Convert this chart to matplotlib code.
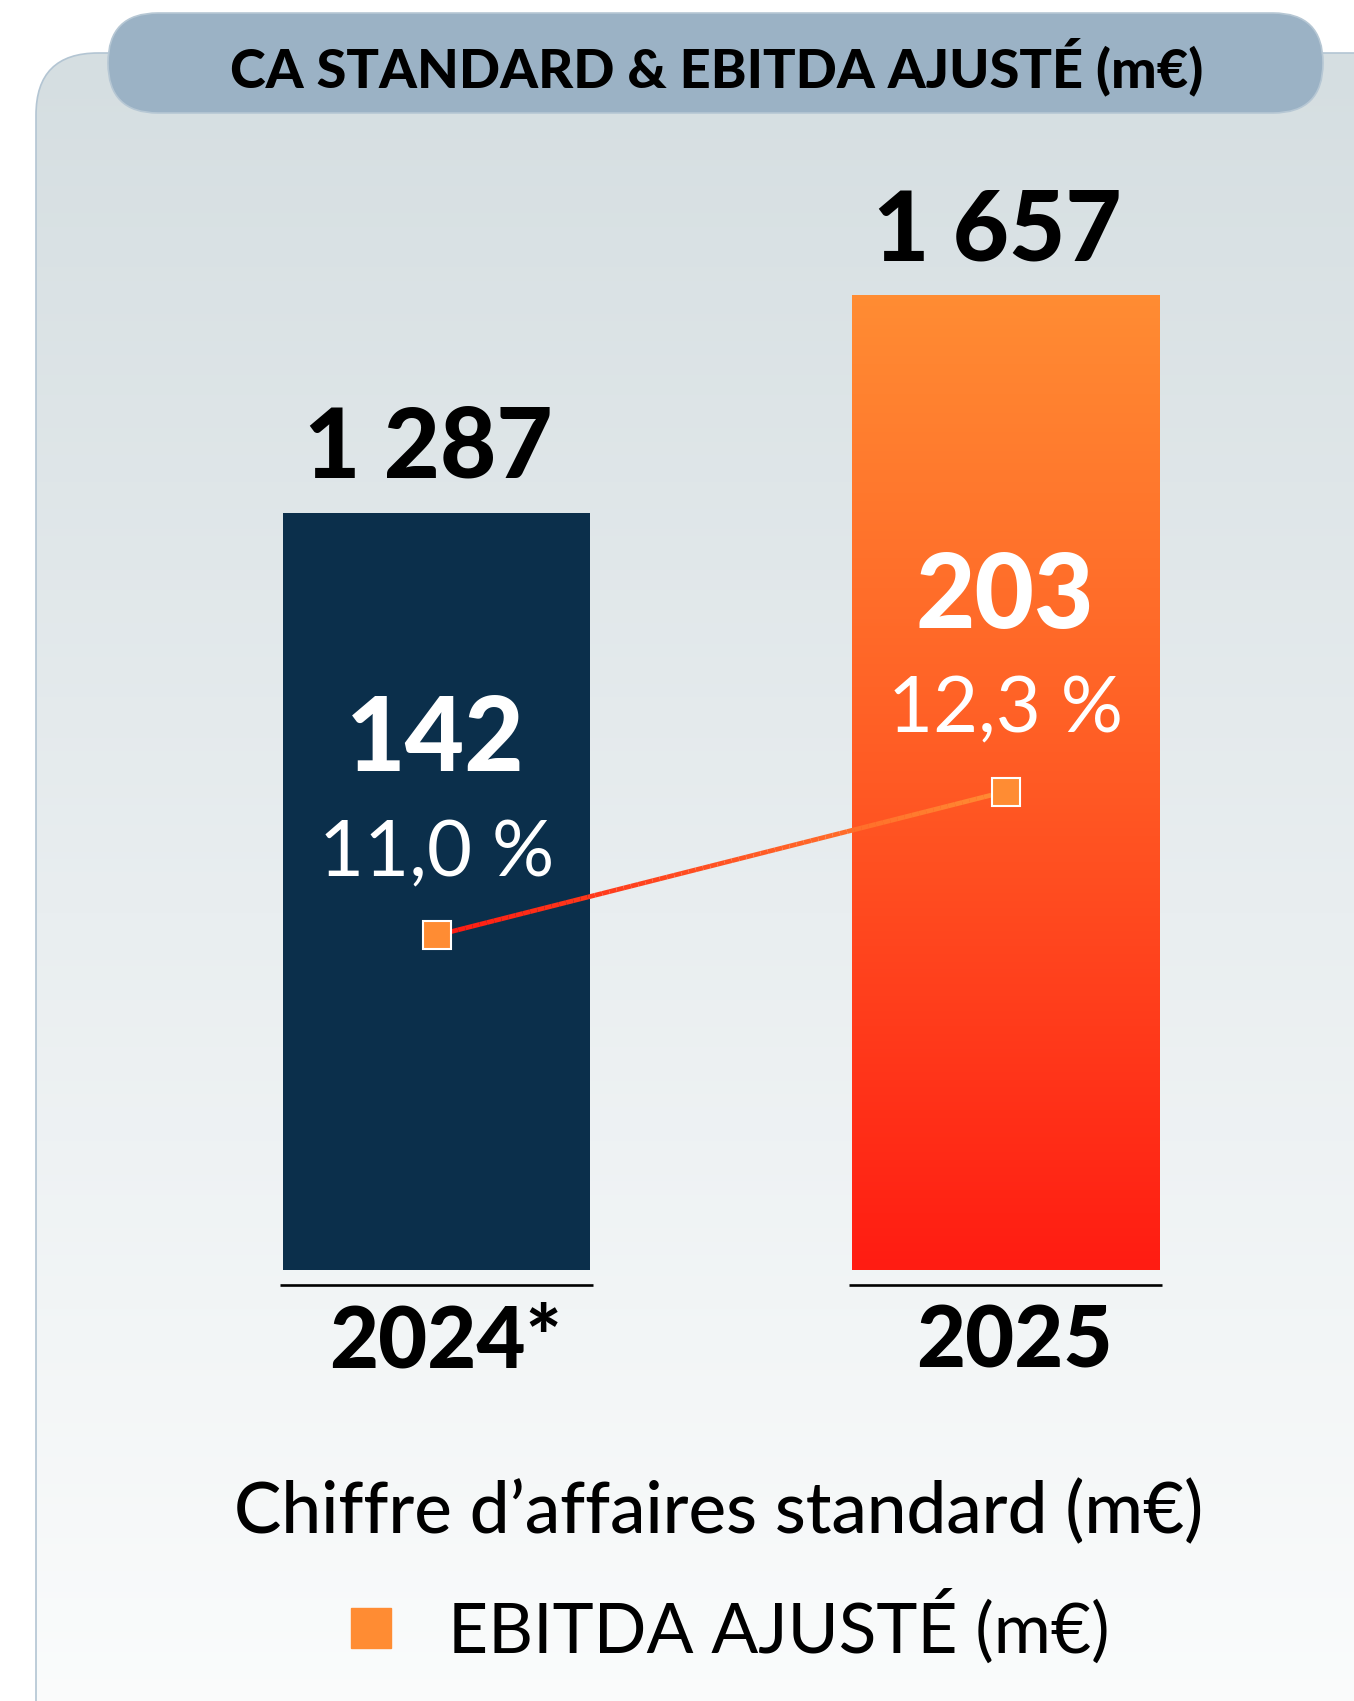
import numpy as np
import matplotlib.pyplot as plt
from matplotlib.patches import FancyBboxPatch
from matplotlib.collections import LineCollection
from matplotlib.colors import LinearSegmentedColormap
from matplotlib.lines import Line2D

# data
years = ["2024*", "2025"]
ca = [1287, 1657]
ca_labels = ["1 287", "1 657"]
ebitda = [142, 203]
ebitda_labels = ["142", "203"]
margins = ["11,0 %", "12,3 %"]

title = "CA STANDARD & EBITDA AJUSTÉ (m€)"
ca_name = "Chiffre d\u2019affaires standard (m€)"
ebitda_name = "EBITDA AJUSTÉ (m€)"

plt.rcParams['font.family'] = ['Lato', 'DejaVu Sans']

W, H = 1354, 1701
fig = plt.figure(figsize=(W / 100, H / 100), dpi=100)
fig.patch.set_facecolor("white")

# background card + header pill (pixel coords)
bg = fig.add_axes([0, 0, 1, 1], zorder=0)
bg.axis("off")
panel = FancyBboxPatch((36, 53), 1400, 1720, boxstyle="round,pad=0,rounding_size=62",
                       fc="none", ec="#b3c5d3", lw=1.2, zorder=2)
bg.add_patch(panel)
panel_cmap = LinearSegmentedColormap.from_list("panel", ["#d5dee1", "#e9eef0", "#fcfdfd"])
im = bg.imshow(np.linspace(0, 1, 256).reshape(-1, 1), cmap=panel_cmap,
               extent=[36, 1436, 1773, 53], aspect="auto", zorder=1)
im.set_clip_path(panel)

pill = FancyBboxPatch((108, 13), 1215, 100, boxstyle="round,pad=0,rounding_size=50",
                      fc="#9bb2c5", ec="#b6c7d4", lw=1.2, zorder=3)
bg.add_patch(pill)
bg.text(717, 87, title, ha="center", va="baseline", fontsize=39, weight="black", zorder=4)
bg.text(719, 1533, ca_name, ha="center", va="baseline", fontsize=51, weight="medium", zorder=4)
bg.set_xlim(0, W)
bg.set_ylim(H, 0)

# chart axes: CA bars
px_ca = 0.5883      # pixels per m€ of CA
px_eb = 2.357       # pixels per m€ of EBITDA
y_lo, y_hi = -60, 1900
ax_h = (y_hi - y_lo) * px_ca
ax_bottom = 431 - (0 - y_lo) * px_ca
ax = fig.add_axes([152 / W, ax_bottom / H, 1138 / W, ax_h / H], zorder=1)
ax.patch.set_alpha(0)
ax.axis("off")
x = np.arange(len(years))
bars = ax.bar(x, ca, width=0.54, color=["#0b2f4b", "none"], zorder=2)

# gradient for the 2025 bar
b = bars[1]
bar_cmap = LinearSegmentedColormap.from_list("bar", ["#ff1c12", "#ff5a24", "#ff8c33"])
gim = ax.imshow(np.linspace(0, 1, 256).reshape(-1, 1), cmap=bar_cmap, origin="lower",
                extent=[b.get_x(), b.get_x() + b.get_width(), 0, b.get_height()],
                aspect="auto", zorder=2)
gim.set_clip_path(b)

ax.hlines([-26] * len(x), x - 0.275, x + 0.275, color="black", lw=1.9)
ax.set_xlim(-0.5, 1.5)
ax.set_ylim(y_lo, y_hi)

for i, v in enumerate(ca):
    ax.annotate(ca_labels[i], (i, v), xytext=(-8, 35), textcoords="offset pixels",
                ha="center", va="baseline", fontsize=70, weight="black")
    ax.annotate(years[i], (i, 0), xytext=(9, -97), textcoords="offset pixels",
                ha="center", va="baseline", fontsize=61, weight="black")

# EBITDA on twin axis
ax2 = ax.twinx()
ax2.axis("off")
ax2.set_ylim(y_lo * px_ca / px_eb, y_hi * px_ca / px_eb)

t = np.linspace(0, 1, 80)
xs = x[0] + (x[1] - x[0]) * t
ys = ebitda[0] + (ebitda[1] - ebitda[0]) * t
pts = np.column_stack([xs, ys]).reshape(-1, 1, 2)
segs = np.concatenate([pts[:-1], pts[1:]], axis=1)
line_cmap = LinearSegmentedColormap.from_list("line", ["#ff1a12", "#ff8c33"])
lc = LineCollection(segs, cmap=line_cmap, linewidths=3.4, zorder=3)
lc.set_array(t[:-1])
ax2.add_collection(lc)
ax2.plot(x, ebitda, ls="none", marker="s", ms=20, mfc="#ff8c33", mec="white", mew=1.5, zorder=4)

for i, v in enumerate(ebitda):
    ax2.annotate(ebitda_labels[i], (i, v), xytext=(-1, 164), textcoords="offset pixels",
                 ha="center", va="baseline", fontsize=74, weight="black", color="white")
    ax2.annotate(margins[i], (i, v), xytext=(0, 59), textcoords="offset pixels",
                 ha="center", va="baseline", fontsize=56, weight="normal", color="white")

handle = Line2D([], [], ls="none", marker="s", ms=29, mfc="#ff8c33", mec="#ff8c33")
fig.legend([handle], [ebitda_name], loc="center left", bbox_to_anchor=(302 / W, 1 - 1627 / H),
           frameon=False, fontsize=50, handletextpad=0.6, handlelength=1.0, borderpad=0)

fig.savefig("out.png", dpi=100)
